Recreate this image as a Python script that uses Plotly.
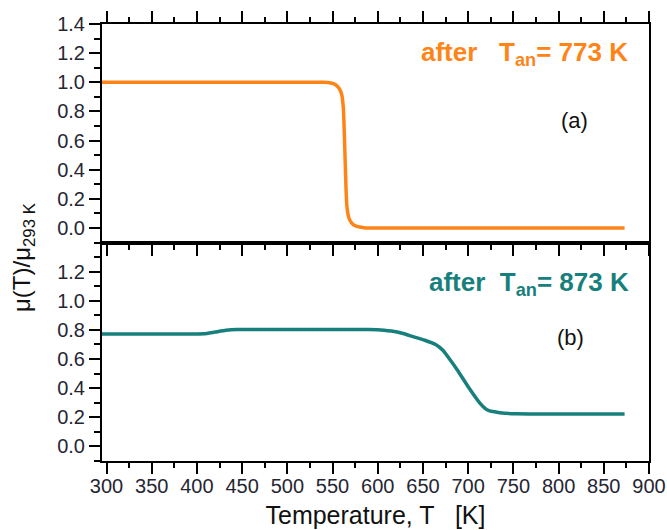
import plotly.graph_objects as go

# Panel (a): after T_an = 773 K
temp_a = [295, 300, 350, 400, 450, 500, 540, 548, 553, 557, 560, 562, 563, 564, 565, 566, 568, 571, 575, 580, 586, 600, 650, 700, 750, 800, 850, 873]
mu_a = [1.0, 1.0, 1.0, 1.0, 1.0, 1.0, 1.0, 0.995, 0.985, 0.96, 0.92, 0.82, 0.65, 0.45, 0.25, 0.14, 0.07, 0.035, 0.015, 0.006, 0.0, 0.0, 0.0, 0.0, 0.0, 0.0, 0.0, 0.0]

# Panel (b): after T_an = 873 K
temp_b = [295, 300, 350, 400, 408, 420, 432, 444, 500, 550, 590, 607, 615, 627, 639, 652, 664, 672, 680, 688, 700, 713, 718, 723, 735, 753, 800, 850, 873]
mu_b = [0.772, 0.772, 0.772, 0.772, 0.773, 0.785, 0.797, 0.803, 0.803, 0.803, 0.803, 0.798, 0.792, 0.777, 0.754, 0.729, 0.70, 0.66, 0.595, 0.525, 0.41, 0.297, 0.265, 0.245, 0.232, 0.224, 0.222, 0.222, 0.222]

x_ticks = [300, 350, 400, 450, 500, 550, 600, 650, 700, 750, 800, 850, 900]
y_ticks_a = [0.0, 0.2, 0.4, 0.6, 0.8, 1.0, 1.2, 1.4]
y_ticks_b = [0.0, 0.2, 0.4, 0.6, 0.8, 1.0, 1.2]

orange = "#FF8418"
teal = "#17807C"
FONT = "Liberation Sans, Arial"
tick_font = dict(family=FONT, size=20, color="#262633")

W, H = 667, 530
ML, MR, MT, MB = 102, 18, 24, 69

fig = go.Figure()
fig.add_trace(go.Scatter(x=temp_a, y=mu_a, mode="lines", line=dict(color=orange, width=3.5, shape="spline", smoothing=0.4),
                         xaxis="x", yaxis="y", showlegend=False))
fig.add_trace(go.Scatter(x=temp_b, y=mu_b, mode="lines", line=dict(color=teal, width=3.5, shape="spline", smoothing=0.4),
                         xaxis="x2", yaxis="y2", showlegend=False))

common_x = dict(range=[295, 900], tickvals=x_ticks, showline=True, linecolor="black", linewidth=2,
                ticks="outside", ticklen=11, tickwidth=2, tickcolor="black", showgrid=False, zeroline=False,
                minor=dict(dtick=25, tick0=300, ticks="outside", ticklen=5, tickwidth=2, tickcolor="black", showgrid=False),
                tickfont=tick_font, automargin=False)
common_y = dict(range=[-0.1, 1.4], showline=True, linecolor="black", linewidth=2, mirror=True,
                ticks="outside", ticklen=11, tickwidth=2, tickcolor="black", showgrid=False, zeroline=False,
                minor=dict(dtick=0.1, tick0=0, ticks="outside", ticklen=6, tickwidth=2, tickcolor="black", showgrid=False),
                tickformat=".1f", tickfont=tick_font, automargin=False)

fig.update_layout(
    width=W, height=H,
    margin=dict(l=ML, r=MR, t=MT, b=MB),
    plot_bgcolor="white", paper_bgcolor="white",
    xaxis=dict(**common_x, domain=[0, 1], anchor="y", mirror="ticks", showticklabels=False),
    yaxis=dict(**common_y, domain=[0.5, 1.0], anchor="x", tickvals=y_ticks_a),
    xaxis2=dict(**common_x, domain=[0, 1], anchor="y2", mirror=True, ticklabelstandoff=-5,
                title=dict(text="Temperature, T   [K]", font=dict(family=FONT, size=25, color="#111111"), standoff=10)),
    yaxis2=dict(**common_y, domain=[0.0, 0.5], anchor="x2", tickvals=y_ticks_b),
)

ann_font = dict(family=FONT, size=26)
fig.add_annotation(x=879, y=1.2, xref="x", yref="y", xanchor="right", yanchor="middle", showarrow=False,
                   text="<b>after   T<sub>an</sub>= 773 K</b>", font=dict(**ann_font, color=orange))
fig.add_annotation(x=818, y=0.74, xref="x", yref="y", showarrow=False,
                   text="(a)", font=dict(family=FONT, size=22, color="#111111"))
fig.add_annotation(x=880, y=1.12, xref="x2", yref="y2", xanchor="right", yanchor="middle", showarrow=False,
                   text="<b>after  T<sub>an</sub>= 873 K</b>", font=dict(**ann_font, color=teal))
fig.add_annotation(x=813, y=0.75, xref="x2", yref="y2", showarrow=False,
                   text="(b)", font=dict(family=FONT, size=22, color="#111111"))

plot_w = W - ML - MR
plot_h = H - MT - MB
fig.add_annotation(x=(23 - ML) / plot_w, y=(H - MB - 258) / plot_h, xref="paper", yref="paper",
                   xanchor="center", yanchor="middle", showarrow=False, textangle=-90,
                   text="μ(T)/μ<sub>293 K</sub>", font=dict(family=FONT, size=24, color="#111111"))

# remove the default 8px page margin so the figure fills the window exactly
fig.write_html("out.html", config={"displayModeBar": False},
               post_script="document.body.style.margin='0';document.body.style.overflow='hidden';")
